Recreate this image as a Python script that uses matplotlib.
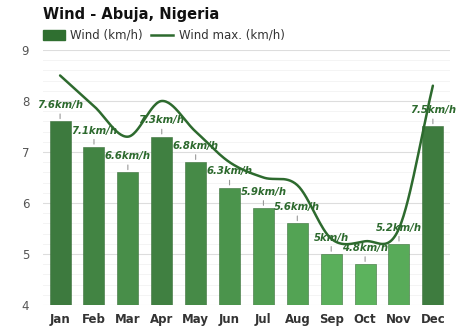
import matplotlib
matplotlib.use("Agg")
import matplotlib.pyplot as plt
import numpy as np
from matplotlib.colors import LinearSegmentedColormap

months = ["Jan", "Feb", "Mar", "Apr", "May", "Jun",
          "Jul", "Aug", "Sep", "Oct", "Nov", "Dec"]
wind = [7.6, 7.1, 6.6, 7.3, 6.8, 6.3, 5.9, 5.6, 5.0, 4.8, 5.2, 7.5]
wind_max = [8.5, 7.9, 7.3, 8.0, 7.4, 6.8, 6.5, 6.35, 5.3, 5.25, 5.5, 8.3]
labels = ["7.6km/h", "7.1km/h", "6.6km/h", "7.3km/h", "6.8km/h", "6.3km/h",
          "5.9km/h", "5.6km/h", "5km/h", "4.8km/h", "5.2km/h", "7.5km/h"]


def smooth(y, n=30):
    """Cubic Hermite curve with Catmull-Rom tangents through the points."""
    y = np.asarray(y, dtype=float)
    x = np.arange(len(y), dtype=float)
    m = np.zeros_like(y)
    m[1:-1] = (y[2:] - y[:-2]) / 2.0
    m[0] = y[1] - y[0]
    m[-1] = y[-1] - y[-2]
    xs, ys = [], []
    for i in range(len(y) - 1):
        t = np.linspace(0, 1, n, endpoint=False)
        h00 = 2 * t**3 - 3 * t**2 + 1
        h10 = t**3 - 2 * t**2 + t
        h01 = -2 * t**3 + 3 * t**2
        h11 = t**3 - t**2
        xs.append(x[i] + t)
        ys.append(h00 * y[i] + h10 * m[i] + h01 * y[i + 1] + h11 * m[i + 1])
    xs.append([x[-1]])
    ys.append([y[-1]])
    return np.concatenate(xs), np.concatenate(ys)


fig = plt.figure(figsize=(4.74, 3.31), dpi=100)
ax = fig.add_axes([0.091, 0.0785, 0.858, 0.7705])

cmap = LinearSegmentedColormap.from_list("wind", ["#5cb35d", "#3d7a3e"])
vals = np.array(wind)
norm = (vals - 4.8) / (7.6 - 4.8)
colors = [cmap(v) for v in norm]

x = np.arange(len(months))
ax.bar(x, wind, width=0.62, bottom=0, color=colors, edgecolor="#3a6f3a",
       linewidth=0.4, zorder=2)

xs, ys = smooth(wind_max)
ax.plot(xs, ys, color="#2d6a2e", linewidth=1.8, zorder=4, solid_capstyle="round")

for xi, v, lab in zip(x, wind, labels):
    ax.annotate("", xy=(xi, v), xytext=(xi, v + 0.2),
                arrowprops=dict(arrowstyle="-", color="#999999", lw=0.8))
    ax.text(xi, v + 0.22, lab, ha="center", va="bottom", fontsize=7.3,
            fontweight="bold", fontstyle="italic", color="#2d6a2e", zorder=5)

ax.set_xlim(-0.5, 11.5)
ax.set_ylim(4, 9)
ax.set_yticks([4, 5, 6, 7, 8, 9])
ax.set_yticks(np.arange(4, 9, 0.2), minor=True)
ax.set_xticks(x)
ax.set_xticklabels(months, fontsize=8.5, fontweight="bold", color="#333333")
ax.tick_params(axis="y", labelsize=8.5, labelcolor="#555555", length=0, pad=10)
ax.tick_params(axis="y", which="minor", length=0)
ax.tick_params(axis="x", length=0, pad=6)
ax.grid(axis="y", which="major", color="#dddddd", linewidth=0.8, zorder=0)
ax.grid(axis="y", which="minor", color="#f2f2f2", linewidth=0.6, zorder=0)
ax.set_axisbelow(True)
for s in ax.spines.values():
    s.set_visible(False)

fig.text(0.091, 0.955, "Wind - Abuja, Nigeria", fontsize=10.5, fontweight="bold",
         color="#111111", va="center", ha="left")

# legend row
fig.patches.append(plt.Rectangle((0.091, 0.878), 0.046, 0.03, color="#2f6f30",
                                 transform=fig.transFigure, figure=fig))
fig.text(0.147, 0.893, "Wind (km/h)", fontsize=8.5, color="#333333", va="center")
fig.lines.append(plt.Line2D([0.318, 0.364], [0.893, 0.893], color="#2d6a2e",
                            linewidth=1.8, transform=fig.transFigure, figure=fig))
fig.text(0.377, 0.893, "Wind max. (km/h)", fontsize=8.5, color="#333333",
         va="center")

fig.savefig("out.png", dpi=100)
